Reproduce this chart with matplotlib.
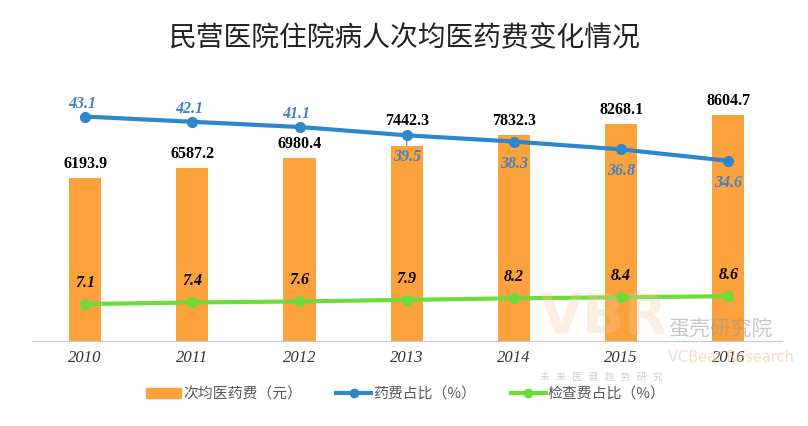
import matplotlib
matplotlib.use("Agg")
import matplotlib.pyplot as plt
from matplotlib.lines import Line2D
from matplotlib.patches import Patch
import numpy as np

years = ["2010", "2011", "2012", "2013", "2014", "2015", "2016"]
cost = [6193.9, 6587.2, 6980.4, 7442.3, 7832.3, 8268.1, 8604.7]
drug_pct = [43.1, 42.1, 41.1, 39.5, 38.3, 36.8, 34.6]
exam_pct = [7.1, 7.4, 7.6, 7.9, 8.2, 8.4, 8.6]

plt.rcParams['font.family'] = ['Noto Sans CJK SC', 'DejaVu Sans']

W, H = 808, 427
PT = 0.72  # points per pixel at dpi 100
fig = plt.figure(figsize=(W/100, H/100), dpi=100)
ax = fig.add_axes([31.5/W, 1-342/H, (782-31.5)/W, 264/H])
ax2 = ax.twinx()

x = np.arange(len(years))
orange = '#FBA23C'
blue = '#2E86CC'
green = '#6DDC3A'

ax.bar(x, cost, width=0.30, color=orange, zorder=2)
ax.set_ylim(0, 10050)
ax.set_xlim(-0.5, len(years)-0.5)

serif = ['Liberation Serif', 'DejaVu Serif']
lab_kw = dict(ha='center', va='center', fontsize=11.5, fontweight='bold', family=serif,
              textcoords='offset points')
for i, (xi, v) in enumerate(zip(x, cost)):
    if i == 3:
        ax.annotate(f"{v:.1f}", (xi, v), xytext=(0, 26*PT), color='black', zorder=5,
                    arrowprops=dict(arrowstyle='-', color='#7F7F7F', lw=0.8,
                                    shrinkA=6, shrinkB=0), **lab_kw)
    else:
        ax.annotate(f"{v:.1f}", (xi, v), xytext=(0, 15*PT), color='black', **lab_kw)

ax2.plot(x, drug_pct, color=blue, lw=3, marker='o', ms=7, zorder=3)
ax2.plot(x, exam_pct, color=green, lw=3, marker='o', ms=7, zorder=3)
ax2.set_ylim(0, 50.7)

for i, (xi, v) in enumerate(zip(x, drug_pct)):
    if i < 3:
        ax2.annotate(f"{v:.1f}", (xi, v), xytext=(-3*PT, 14*PT), color='#3F82C0',
                     fontstyle='italic', **lab_kw)
    else:
        ax2.annotate(f"{v:.1f}", (xi, v), xytext=(0, -21*PT), color='#3F82C0',
                     fontstyle='italic', **lab_kw)
for xi, v in zip(x, exam_pct):
    ax2.annotate(f"{v:.1f}", (xi, v), xytext=(0, 22*PT), color='black',
                 fontstyle='italic', **lab_kw)

for a in (ax, ax2):
    for s in ('top', 'right', 'left'):
        a.spines[s].set_visible(False)
    a.set_yticks([])
ax.spines['bottom'].set_color('#C8C8C8')
ax2.spines['bottom'].set_visible(False)
ax.set_xticks(x)
ax.set_xticklabels(years, fontsize=12, fontstyle='italic', family=serif, color='#333333')
ax.tick_params(axis='x', length=0, pad=6)

fig.text(0.5, 1-38/H, "民营医院住院病人次均医药费变化情况", ha='center', va='center',
         fontsize=20, color='#222222')

# watermark
fig.text(540/W, 1-345/H, "VBR", fontsize=40, fontweight='bold', color='#F6C79A', alpha=0.3,
         family='DejaVu Sans', va='bottom')
fig.text(668/W, 1-330/H, "蛋壳研究院", fontsize=15, color='#9A9A9A', alpha=0.55, va='center')
fig.text(668/W, 1-357/H, "VCBeat Research", fontsize=10.5, color='#F2C59A', alpha=0.6, va='center',
         family='DejaVu Sans')
fig.text(540/W, 1-377/H, "未   来   医   健   趋   势   研   究", fontsize=7, color='#BBBBBB',
         alpha=0.7, va='center')

handles = [Patch(color=orange),
           Line2D([0], [0], color=blue, lw=3, marker='o', ms=6),
           Line2D([0], [0], color=green, lw=3, marker='o', ms=6)]
labels = ["次均医药费（元）", "药费占比（%）", "检查费占比（%）"]
leg = fig.legend(handles, labels, loc='center', bbox_to_anchor=(406/W, 1-395/H), ncol=3,
                 frameon=False, fontsize=10.7, handlelength=2.35, handletextpad=0.15,
                 columnspacing=2.3)
for t in leg.get_texts():
    t.set_color('#595959')

fig.savefig("out.png", dpi=100)
